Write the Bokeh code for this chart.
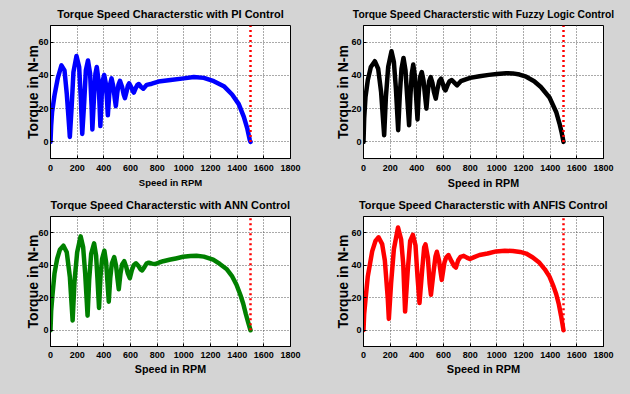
from bokeh.plotting import figure
from bokeh.layouts import column, row
from bokeh.models import FixedTicker, Range1d, GlobalInlineStyleSheet
from bokeh.embed import file_html
from bokeh.resources import INLINE

# ---------------- data ----------------
x_ticks = [0, 200, 400, 600, 800, 1000, 1200, 1400, 1600, 1800]
y_ticks = [0, 20, 40, 60]
sync_speed = 1500
sync_line_torque = [0, 70]

titles = [
    "Torque Speed Characterstic with PI Control",
    "Torque Speed Characterstic with Fuzzy Logic Control",
    "Torque Speed Characterstic with ANN Control",
    "Torque Speed Characterstic with ANFIS Control",
]
x_label = "Speed in RPM"
y_label = "Torque in N-m"

pi_speed = [0, 5, 12, 30, 55, 82, 105, 122, 140, 145,
            160, 172, 195, 215, 228, 238,
            253, 265, 281, 297, 308, 314,
            327, 337, 347, 360, 368, 374,
            384, 392, 403, 415, 424, 430,
            440, 448, 458, 472, 482, 490,
            500, 510, 521, 537, 549, 558,
            570, 580, 590, 605, 617, 625,
            640, 652, 662, 680, 696,
            722, 760, 810, 900, 1000, 1075, 1150, 1225, 1300, 1362, 1412,
            1450, 1475, 1495, 1500]
pi_torque = [0, 10, 18, 28, 38.5, 46, 43, 29, 9, 3,
             23, 42, 51.7, 45, 25, 4.8,
             24, 43, 49, 41, 22, 7.5,
             28, 41, 45, 37, 22, 9.5,
             28, 37, 40.3, 35, 25, 16,
             28, 35, 38.2, 33, 26, 21.5,
             29, 34.5, 36.7, 33, 28.5, 26.3,
             30, 33.7, 35.2, 33, 30.5, 29.7,
             32.5, 34.3, 34.8, 33, 32,
             34.3, 35, 36.3, 37.2, 38.2, 39, 38.5, 36.5, 33.5, 28.5, 22.7,
             15, 8.3, 1, 0]

flc_speed = [0, 5, 15, 32, 55, 85, 110, 132, 155, 168, 185, 210, 228, 243, 260,
             272, 285, 300, 315, 327, 342, 352, 362, 373, 385, 394, 405, 415, 425, 437,
             450, 460, 472, 482, 492, 504, 517, 528, 542, 555, 568, 582, 595, 605, 615,
             630, 645, 662, 683, 702, 730, 762, 800, 870, 940, 1000, 1070, 1120, 1170,
             1220, 1280, 1330, 1395, 1445, 1470, 1485, 1500]
flc_torque = [0, 14, 27, 37, 45, 48.5, 44, 30, 4, 27, 45, 54.5, 48, 32, 7,
              28, 44, 50.5, 43, 28, 10, 28, 41, 46.5, 40, 28, 13.5, 30, 39, 42,
              37, 29, 20, 30, 36.5, 39, 35.5, 30, 26, 32, 36.5, 38, 35, 32, 31,
              34, 36.5, 37.2, 35.5, 34, 36.5, 37.5, 38.5, 39.5, 40.3, 40.8, 41.3, 41.2, 40.5,
              39.2, 36.5, 33, 26.7, 18, 11, 6, 0]

ann_speed = [0, 5, 15, 30, 50, 70, 97, 122, 145, 166, 180, 200, 226, 245, 260, 278,
             290, 305, 327, 342, 352, 364, 375, 387, 404, 417, 427, 437, 448, 460, 478,
             492, 502, 512, 525, 537, 553, 568, 580, 595, 610, 624, 641, 660, 675, 687,
             705, 720, 737, 762, 785, 815, 845, 900, 940, 995, 1050, 1095, 1150, 1220,
             1270, 1320, 1360, 1395, 1425, 1445, 1465, 1482, 1500]
ann_torque = [0, 12, 22, 35, 44, 49.5, 52, 48, 33, 6, 30, 48, 57.8, 51, 35, 9,
              31, 47, 53.5, 46, 32, 13.7, 33, 44, 49, 42, 30, 17.6, 32, 41, 45,
              39.5, 32, 25.2, 35, 40.5, 42.5, 39, 35, 32, 37, 40, 41.2, 39.5, 37.5, 36.8,
              39, 41, 41.6, 41, 40.7, 41.7, 42.5, 43.5, 44.2, 45.2, 45.7, 45.8, 45.3, 43.5,
              40.8, 37.7, 33.5, 28, 21.5, 16.5, 10, 5, 0]

anfis_speed = [0, 5, 14, 32, 65, 90, 113, 140, 160, 182, 190, 207, 228, 259, 282, 298, 312,
               332, 350, 370, 390, 405, 420, 440, 455, 465, 483, 496, 506, 527, 540, 550,
               567, 578, 587, 607, 620, 637, 660, 680, 693, 710, 728, 752, 775, 798, 830,
               870, 930, 995, 1060, 1120, 1175, 1220, 1270, 1320, 1360, 1395, 1425, 1445,
               1465, 1482, 1500]
anfis_torque = [0, 10, 18, 33, 48.5, 55, 57.2, 53, 43, 19.6, 7, 29, 50, 63.2, 56, 40.8, 11.5,
                37, 55, 58.7, 52.3, 33, 16.7, 37, 51, 52.9, 44.6, 29, 21.8, 37, 45.5, 48.3,
                42.7, 36, 31, 41.7, 44.8, 46.3, 42.5, 39.5, 38.6, 43, 45.2, 45.8, 44.7, 43.8, 45,
                46.3, 47.2, 48.5, 48.9, 48.8, 48.2, 47.2, 44.8, 41.5, 37.5, 33, 27, 22.3,
                16, 8.8, 0]

# ---------------- styling ----------------
BG = "#d4d4d4"
FONT = "Liberation Sans"
W = 307
FW = 240


def panel(title, speed, torque, color, height, top, fh, left, title_size, xlab_size,
          ylab_standoff, tick_standoff, xlab_standoff):
    p = figure(width=W, height=height, output_backend="svg", toolbar_location=None,
               x_range=Range1d(0, 1800), y_range=Range1d(-10, 70),
               min_border_left=left, min_border_right=W - left - FW,
               min_border_top=top, min_border_bottom=height - top - fh,
               background_fill_color="white", border_fill_color=BG)
    p.title.text = title
    p.title.align = "center"
    p.title.text_font = FONT
    p.title.text_font_style = "bold"
    p.title.text_font_size = title_size
    p.title.text_color = "black"
    p.title.standoff = 11
    p.outline_line_color = "black"
    p.outline_line_width = 1

    for ax in (p.xaxis[0], p.yaxis[0]):
        ax.major_label_text_font = FONT
        ax.major_label_text_font_style = "bold"
        ax.major_label_text_font_size = "9px"
        ax.major_label_text_color = "black"
        ax.axis_label_text_font = FONT
        ax.axis_label_text_font_style = "bold"
        ax.axis_label_text_color = "black"
        ax.axis_line_color = "black"
        ax.major_tick_in = 3
        ax.major_tick_out = 0
        ax.major_tick_line_color = "black"
        ax.minor_tick_line_color = None

    p.xaxis.ticker = FixedTicker(ticks=x_ticks)
    p.yaxis.ticker = FixedTicker(ticks=y_ticks)
    p.xaxis.axis_label = x_label
    p.xaxis.axis_label_text_font_size = xlab_size
    p.xaxis.major_label_standoff = tick_standoff
    p.xaxis.axis_label_standoff = xlab_standoff
    p.yaxis.axis_label = y_label
    p.yaxis.axis_label_text_font_size = "14px"
    p.yaxis.major_label_standoff = 2
    p.yaxis.axis_label_standoff = ylab_standoff

    p.xgrid.ticker = FixedTicker(ticks=x_ticks)
    p.ygrid.ticker = FixedTicker(ticks=y_ticks)
    p.grid.grid_line_color = "#555555"
    p.grid.grid_line_dash = "1 2"
    p.grid.grid_line_width = 1

    p.line(speed, torque, line_color=color, line_width=4.5,
           line_join="round", line_cap="round")
    p.line([sync_speed, sync_speed], sync_line_torque, line_color="red",
           line_width=2.5, line_dash="2 3")
    return p


p1 = panel(titles[0], pi_speed, pi_torque, "#0000ff", 191, 25, 134, 50,
           "11px", "9.5px", -6, 6, 3)
p2 = panel(titles[1], flc_speed, flc_torque, "black", 191, 25, 134, 56,
           "10.3px", "10.7px", -3, 6, 3)
p3 = panel(titles[2], ann_speed, ann_torque, "#008000", 187, 23, 132, 50,
           "11px", "10.7px", -6, 5, 2)
p4 = panel(titles[3], anfis_speed, anfis_torque, "#ff0000", 187, 23, 132, 56,
           "11px", "11px", -3, 5, 2)

layout = column(row(p1, p2), row(p3, p4))
layout.styles = {"background-color": BG}
layout.stylesheets = [GlobalInlineStyleSheet(css="html, body { background-color: #d4d4d4; }")]

open("out.html", "w").write(file_html(layout, INLINE))
